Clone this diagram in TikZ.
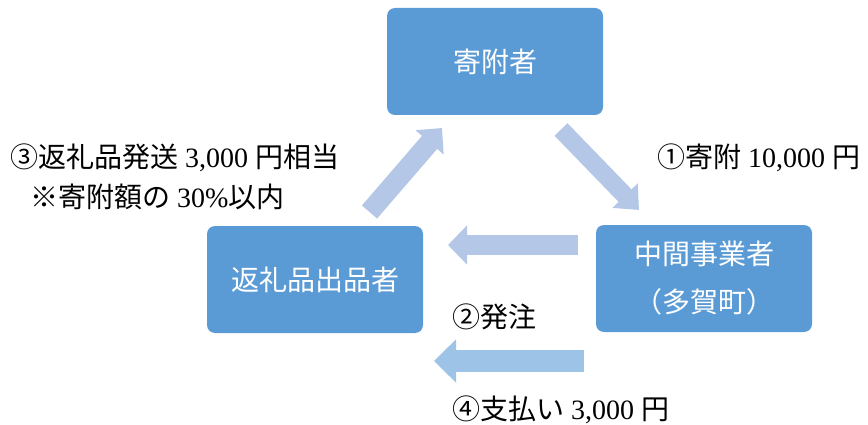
\documentclass[tikz,border=0pt]{standalone}
\usepackage{fontspec}
\setmainfont{Liberation Serif}
\newfontfamily\cjk{Noto Sans CJK JP}
\usetikzlibrary{arrows.meta}
\definecolor{boxblue}{HTML}{5B9BD5}
\definecolor{flowblue}{HTML}{B4C7E7}
\definecolor{payblue}{HTML}{9DC3E6}

\begin{document}
\begin{tikzpicture}[x=1pt,y=-1pt,
party/.style={fill=boxblue,rounded corners=8pt,
minimum width=216pt,minimum height=107pt,inner sep=0pt,
text=white,align=center,font=\cjk\fontsize{28}{48}\selectfont},
note/.style={anchor=west,inner sep=0pt,font=\fontsize{28}{40}\selectfont}]
\useasboundingbox (0,0) rectangle (868,425);

%----------boxes
\node[party] (donor) at (495,61.5) {寄附者};
\node[party] (supplier) at (315,279.5) {返礼品出品者};
\node[party] (agent) at (704,278.5) {中間事業者\\（多賀町）};

%----------arrow ends
\coordinate (upT) at (369.5,212);
\coordinate (upH) at (442,128);
\coordinate (dnT) at (561,129.5);
\coordinate (dnH) at (639,210);
\coordinate (ordT) at (578,245);
\coordinate (ordH) at (448,245);
\coordinate (payT) at (584,361);
\coordinate (payH) at (434,361);

%----------arrows
\draw[flowblue,line width=20pt,-{Triangle[length=19pt,width=36pt]}] (upT) -- (upH);
\draw[flowblue,line width=18pt,-{Triangle[length=20pt,width=34pt]}] (dnT) -- (dnH);
\draw[flowblue,line width=20pt,-{Triangle[length=19pt,width=38pt]}] (ordT) -- (ordH);
\draw[payblue,line width=22pt,-{Triangle[length=22pt,width=42pt]}] (payT) -- (payH);

%----------labels
\node[note] (gift) at (10,158) {{\cjk ③返礼品発送} 3,000 {\cjk 円相当}};
\node[note] (limit) at (30,197) {{\cjk ※寄附額の} 30\%{\cjk 以内}};
\node[note] (pay) at (657,158) {{\cjk ①寄附} 10,000 {\cjk 円}};
\node[note] (order) at (452,317) {{\cjk ②発注}};
\node[note] (fee) at (452,410) {{\cjk ④支払い} 3,000 {\cjk 円}};

\end{tikzpicture}
\end{document}
